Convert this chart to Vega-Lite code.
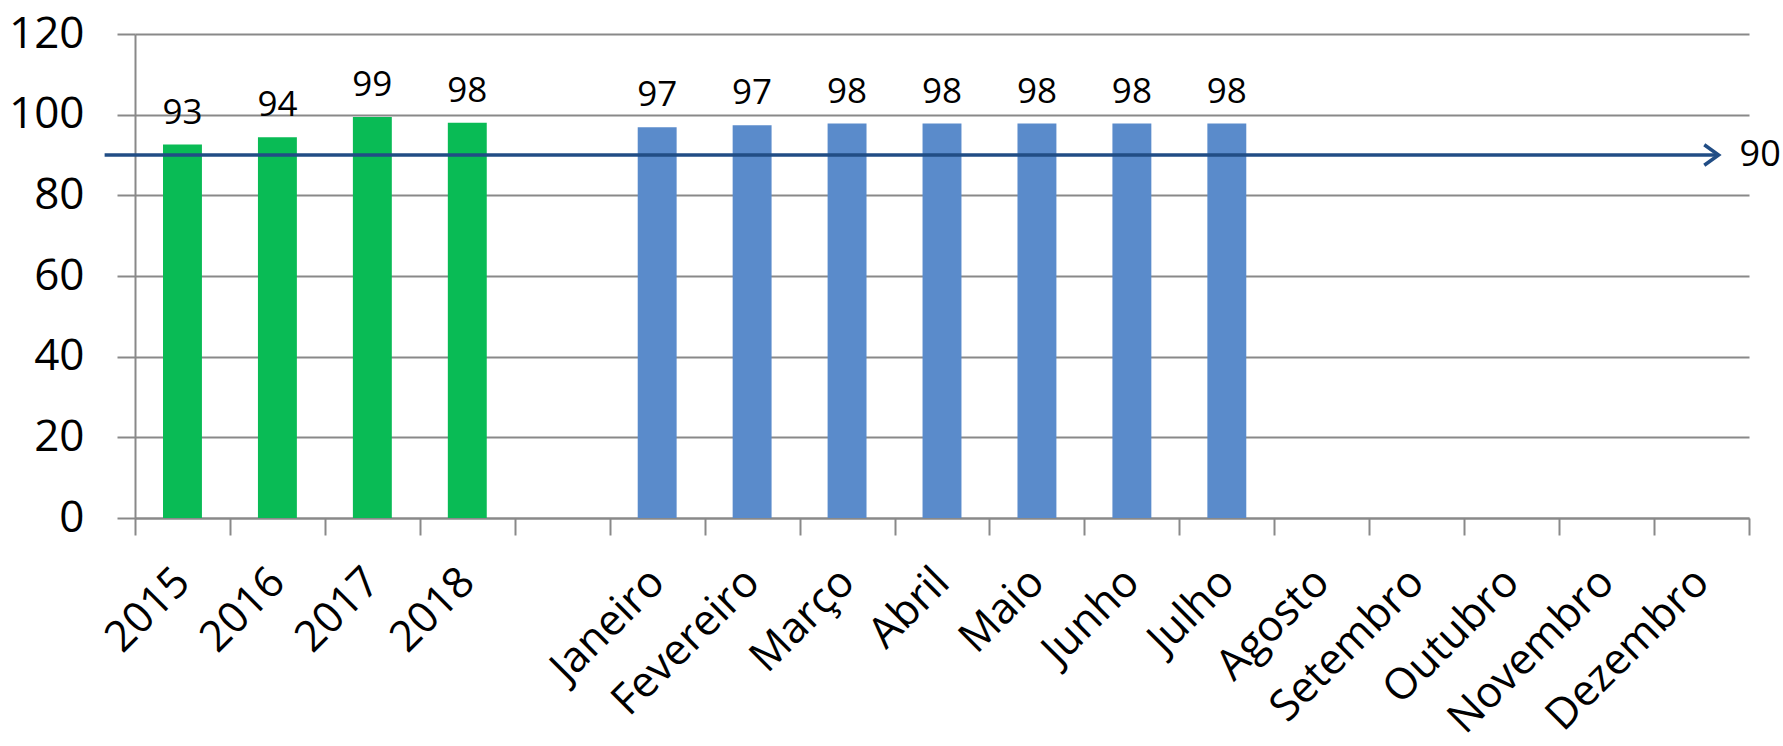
{
  "$schema": "https://vega.github.io/schema/vega-lite/v6.json",
  "width": 1614,
  "height": 484,
  "autosize": {"type": "none"},
  "padding": {"left": 135, "top": 34, "right": 34, "bottom": 228},
  "background": "white",
  "config": {
    "view": {"stroke": null},
    "font": "Open Sans",
    "axis": {
      "labelFont": "Open Sans",
      "labelColor": "#000000",
      "domainColor": "#898989",
      "domainWidth": 2,
      "tickColor": "#898989",
      "tickWidth": 2,
      "gridColor": "#898989",
      "gridWidth": 2
    }
  },
  "layer": [
    {
      "data": {
        "values": [
          {"cat": "2015", "value": 92.6, "grupo": "ano"},
          {"cat": "2016", "value": 94.4, "grupo": "ano"},
          {"cat": "2017", "value": 99.4, "grupo": "ano"},
          {"cat": "2018", "value": 98.0, "grupo": "ano"},
          {"cat": "Janeiro", "value": 96.9, "grupo": "mes"},
          {"cat": "Fevereiro", "value": 97.4, "grupo": "mes"},
          {"cat": "Março", "value": 97.8, "grupo": "mes"},
          {"cat": "Abril", "value": 97.8, "grupo": "mes"},
          {"cat": "Maio", "value": 97.8, "grupo": "mes"},
          {"cat": "Junho", "value": 97.8, "grupo": "mes"},
          {"cat": "Julho", "value": 97.8, "grupo": "mes"}
        ]
      },
      "encoding": {
        "x": {
          "field": "cat",
          "type": "nominal",
          "sort": null,
          "scale": {
            "domain": ["2015", "2016", "2017", "2018", " ", "Janeiro", "Fevereiro", "Março", "Abril", "Maio", "Junho", "Julho", "Agosto", "Setembro", "Outubro", "Novembro", "Dezembro"],
            "paddingInner": 0,
            "paddingOuter": 0
          },
          "axis": {
            "title": null,
            "tickBand": "extent",
            "labelAngle": -45,
            "labelAlign": "right",
            "labelBaseline": "middle",
            "labelFontSize": 43,
            "labelPadding": 40,
            "labelLimit": 600,
            "labelOverlap": false,
            "tickSize": 17,
            "grid": false
          }
        },
        "y": {
          "field": "value",
          "type": "quantitative",
          "scale": {"domain": [0, 120], "nice": false},
          "axis": {
            "title": null,
            "values": [0, 20, 40, 60, 80, 100, 120],
            "labelFontSize": 44,
            "labelPadding": 33,
            "tickSize": 18,
            "grid": true
          }
        }
      },
      "layer": [
        {
          "mark": {"type": "bar", "width": {"band": 0.41}},
          "encoding": {
            "color": {
              "field": "grupo",
              "type": "nominal",
              "scale": {"domain": ["ano", "mes"], "range": ["#09BB55", "#5A8BCB"]},
              "legend": null
            }
          }
        },
        {
          "mark": {"type": "text", "baseline": "alphabetic", "align": "center", "dy": -21, "fontSize": 35, "font": "Open Sans", "color": "#000000"},
          "encoding": {
            "text": {"field": "value", "type": "quantitative", "format": ".0f"}
          }
        }
      ]
    },
    {
      "layer": [
        {
          "data": {"values": [{"pos": -0.32, "value": 90}, {"pos": 16.68, "value": 90}]},
          "mark": {"type": "line", "color": "#214D85", "strokeWidth": 3.5},
          "encoding": {
            "x": {"field": "pos", "type": "quantitative", "scale": {"domain": [0, 17], "nice": false, "zero": false}, "axis": null},
            "y": {"field": "value", "type": "quantitative"}
          }
        },
        {
          "data": {"values": [{"pos": 16.68, "value": 90}]},
          "mark": {"type": "point", "shape": "M-1.4,-1L0,0L-1.4,1", "filled": false, "stroke": "#214D85", "strokeWidth": 3.5, "size": 420, "opacity": 1},
          "encoding": {
            "x": {"field": "pos", "type": "quantitative"},
            "y": {"field": "value", "type": "quantitative"}
          }
        },
        {
          "data": {"values": [{"pos": 16.68, "value": 90, "label": "90"}]},
          "mark": {"type": "text", "align": "left", "baseline": "middle", "dx": 21, "fontSize": 36, "font": "Open Sans", "color": "#000000"},
          "encoding": {
            "x": {"field": "pos", "type": "quantitative"},
            "y": {"field": "value", "type": "quantitative"},
            "text": {"field": "label"}
          }
        }
      ]
    }
  ],
  "resolve": {"scale": {"x": "independent"}, "axis": {"x": "independent"}}
}
